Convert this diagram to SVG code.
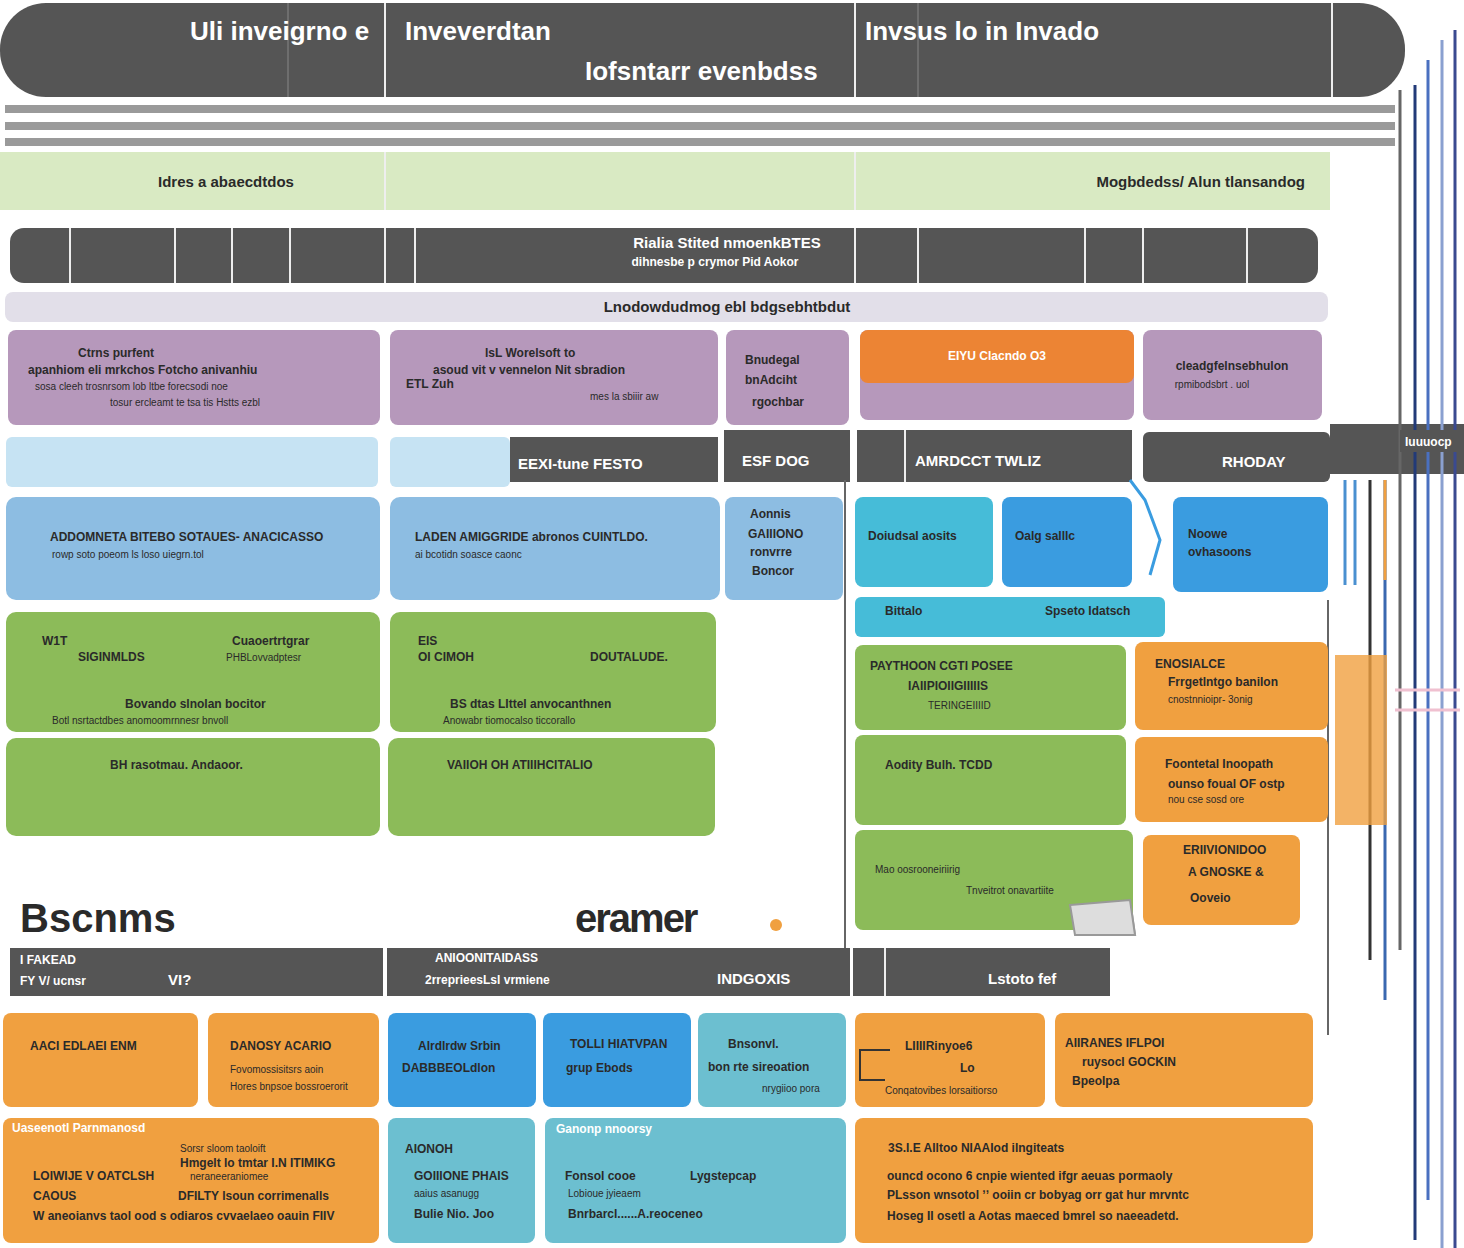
<svg xmlns="http://www.w3.org/2000/svg" width="1464" height="1248" viewBox="0 0 1464 1248">
<style>
text{font-family:"Liberation Sans",Arial,sans-serif;font-weight:bold}
.w{fill:#fff}.k{fill:#2a2a2a}
.hd{fill:#555555}.pu{fill:#b698bb}.lb{fill:#c6e3f3}.bl{fill:#8dbde2}.te{fill:#46bcd8}.db{fill:#3a9ce0}
.gr{fill:#8cbb59}.or{fill:#f0a040}.tl{fill:#6cbfd0}
.t1{font-size:26px}.t2{font-size:15px}.t3{font-size:12px}.t4{font-size:10px;font-weight:normal}
.dv{stroke:#eee;stroke-width:2}
</style>
<rect width="1464" height="1248" fill="#fff"/>
<g id="header">
<rect x="0" y="3" width="1405" height="94" rx="46" class="hd"/>
<line x1="385" y1="3" x2="385" y2="97" class="dv"/><line x1="855" y1="3" x2="855" y2="97" class="dv"/><line x1="1332" y1="3" x2="1332" y2="97" class="dv"/>
<line x1="288" y1="3" x2="288" y2="97" stroke="#888"/><line x1="918" y1="3" x2="918" y2="97" stroke="#888"/>
<text x="190" y="40" class="w t1">Uli inveigrno e</text>
<text x="405" y="40" class="w t1">Inveverdtan</text>
<text x="585" y="80" class="w t1">Iofsntarr evenbdss</text>
<text x="865" y="40" class="w t1">Invsus lo in Invado</text>
</g>
<g id="stripes" fill="#9a9a9a">
<rect x="5" y="105" width="1390" height="8"/><rect x="5" y="122" width="1390" height="8"/><rect x="5" y="138" width="1390" height="8"/>
</g>
<g id="band-green">
<rect x="0" y="152" width="1330" height="58" fill="#d9eac3"/>
<line x1="385" y1="152" x2="385" y2="210" class="dv"/><line x1="855" y1="152" x2="855" y2="210" class="dv"/>
<text x="158" y="187" class="k t2">Idres a abaecdtdos</text>
<text x="1305" y="187" class="k t2" text-anchor="end">Mogbdedss/ Alun tlansandog</text>
</g>
<g id="band-dark">
<rect x="10" y="228" width="1308" height="55" rx="14" class="hd"/>
<g class="dv"><line x1="70" y1="228" x2="70" y2="283"/><line x1="175" y1="228" x2="175" y2="283"/><line x1="232" y1="228" x2="232" y2="283"/><line x1="290" y1="228" x2="290" y2="283"/><line x1="385" y1="228" x2="385" y2="283"/><line x1="415" y1="228" x2="415" y2="283"/><line x1="855" y1="228" x2="855" y2="283"/><line x1="918" y1="228" x2="918" y2="283"/><line x1="1085" y1="228" x2="1085" y2="283"/><line x1="1143" y1="228" x2="1143" y2="283"/><line x1="1247" y1="228" x2="1247" y2="283"/></g>
<text x="727" y="248" class="w t2" text-anchor="middle">Rialia Stited nmoenkBTES</text>
<text x="715" y="266" class="w t3" text-anchor="middle">dihnesbe p crymor Pid Aokor</text>
</g>
<g id="band-lav">
<rect x="5" y="292" width="1323" height="30" rx="8" fill="#e2dfe9"/>
<text x="727" y="312" class="k t2" text-anchor="middle">Lnodowdudmog ebl bdgsebhtbdut</text>
</g>
<g id="row-purple">
<rect x="8" y="330" width="372" height="95" rx="8" class="pu"/>
<text x="78" y="357" class="k t3">Ctrns purfent</text><text x="28" y="374" class="k t3">apanhiom eli mrkchos Fotcho anivanhiu</text><text x="35" y="390" class="k t4">sosa cleeh trosnrsom lob ltbe forecsodi noe</text><text x="110" y="406" class="k t4">tosur ercleamt te tsa tis Hstts ezbl</text>
<rect x="390" y="330" width="328" height="95" rx="8" class="pu"/>
<text x="485" y="357" class="k t3">lsL Worelsoft to</text><text x="433" y="374" class="k t3">asoud vit v vennelon Nit sbradion</text><text x="406" y="388" class="k t3">ETL Zuh</text><text x="590" y="400" class="k t4">mes la sbiiir aw</text>
<rect x="726" y="330" width="123" height="95" rx="8" class="pu"/>
<text x="745" y="364" class="k t3">Bnudegal</text><text x="745" y="384" class="k t3">bnAdciht</text><text x="752" y="406" class="k t3">rgochbar</text>
<rect x="860" y="330" width="274" height="90" rx="8" class="pu"/>
<rect x="860" y="330" width="274" height="53" rx="8" fill="#ec8434"/>
<text x="997" y="360" class="w t3" text-anchor="middle">EIYU Clacndo O3</text>
<rect x="1143" y="330" width="179" height="90" rx="8" class="pu"/>
<text x="1232" y="370" class="k t3" text-anchor="middle">cleadgfelnsebhulon</text><text x="1212" y="388" class="k t4" text-anchor="middle">rpmibodsbrt . uol</text>
</g>
<g id="row-labels">
<rect x="6" y="437" width="372" height="50" rx="6" class="lb"/>
<rect x="390" y="437" width="120" height="50" rx="6" class="lb"/>
<rect x="510" y="437" width="208" height="45" class="hd"/><text x="518" y="469" class="w t2" font-size="20">EEXI-tune FESTO</text>
<rect x="724" y="430" width="126" height="52" class="hd"/><text x="742" y="466" class="w t2" font-size="20">ESF DOG</text>
<rect x="857" y="430" width="275" height="52" class="hd"/><line x1="905" y1="430" x2="905" y2="482" class="dv"/><text x="915" y="466" class="w t2" font-size="20">AMRDCCT TWLIZ</text>
<rect x="1143" y="432" width="187" height="50" rx="6" class="hd"/><text x="1222" y="467" class="w t2" font-size="20">RHODAY</text>
<rect x="1330" y="424" width="134" height="50" class="hd"/>
</g>
<g id="connectors" fill="none">
<line x1="845" y1="480" x2="845" y2="948" stroke="#666" stroke-width="2"/>
<line x1="1328" y1="600" x2="1328" y2="1035" stroke="#666" stroke-width="2"/>
<path d="M890 1050 L860 1050 L860 1080 L885 1080" stroke="#333" stroke-width="2"/>
<path d="M1130 480 L1145 500 L1160 540 L1150 575" stroke="#3a9ce0" stroke-width="3"/>
<path d="M1070 905 L1130 900 L1135 935 L1075 935" stroke="#999" stroke-width="2" fill="#ddd"/>
<g stroke-width="3">
<line x1="1345" y1="480" x2="1345" y2="585" stroke="#4a90d0"/><line x1="1355" y1="480" x2="1355" y2="585" stroke="#4a90d0"/><line x1="1370" y1="480" x2="1370" y2="960" stroke="#333"/><line x1="1385" y1="480" x2="1385" y2="1000" stroke="#3a68b0"/><line x1="1400" y1="90" x2="1400" y2="950" stroke="#666"/><line x1="1415" y1="85" x2="1415" y2="1240" stroke="#223a78"/><line x1="1428" y1="60" x2="1428" y2="1200" stroke="#4a70c0"/><line x1="1442" y1="40" x2="1442" y2="1248" stroke="#8aa0d0"/><line x1="1455" y1="30" x2="1455" y2="1248" stroke="#3a4a90"/>
<rect x="1335" y="655" width="52" height="170" fill="#f0a040" stroke="none" opacity="0.8"/>
<line x1="1395" y1="690" x2="1460" y2="690" stroke="#f0c0d0"/><line x1="1395" y1="710" x2="1460" y2="710" stroke="#f0c0d0"/>
<line x1="1385" y1="480" x2="1385" y2="580" stroke="#f0a040"/>
</g>
</g>
<g id="label-right"><rect x="1400" y="430" width="64" height="22" class="hd"/><text x="1405" y="446" class="w t3">Iuuuocp</text></g>
<g id="row-blue">
<rect x="6" y="497" width="374" height="103" rx="10" class="bl"/>
<text x="50" y="541" class="k t3">ADDOMNETA BITEBO SOTAUES-    ANACICASSO</text><text x="52" y="558" class="k t4">rowp  soto     poeom      ls  loso         uiegrn.tol</text>
<rect x="390" y="497" width="330" height="103" rx="10" class="bl"/>
<text x="415" y="541" class="k t3">LADEN AMIGGRIDE  abronos CUINTLDO.</text><text x="415" y="558" class="k t4">ai bcotidn   soasce                          caonc</text>
<rect x="725" y="497" width="118" height="103" rx="8" class="bl"/>
<text x="750" y="518" class="k t3">Aonnis</text><text x="748" y="538" class="k t3">GAIIIONO</text><text x="750" y="556" class="k t3">ronvrre</text><text x="752" y="575" class="k t3">Boncor</text>
<rect x="855" y="497" width="138" height="90" rx="8" class="te"/><text x="868" y="540" class="k t3">Doiudsal aosits</text>
<rect x="1002" y="497" width="130" height="90" rx="8" class="db"/><text x="1015" y="540" class="k t3">Oalg salllc</text>
<rect x="1173" y="497" width="155" height="95" rx="8" class="db"/><text x="1188" y="538" class="k t3">Noowe</text><text x="1188" y="556" class="k t3">ovhasoons</text>
<rect x="855" y="597" width="310" height="40" rx="6" class="te"/><text x="885" y="615" class="k t3">Bittalo</text><text x="1045" y="615" class="k t3">Spseto Idatsch</text>
</g>
<g id="row-green">
<rect x="6" y="612" width="374" height="120" rx="10" class="gr"/>
<text x="42" y="645" class="k t3">W1T</text><text x="78" y="661" class="k t3">SIGINMLDS</text><text x="232" y="645" class="k t3">Cuaoertrtgrar</text><text x="226" y="661" class="k t4">PHBLovvadptesr</text><text x="125" y="708" class="k t3">Bovando slnolan bocitor</text><text x="52" y="724" class="k t4">Botl nsrtactdbes anomoomrnnesr bnvoll</text>
<rect x="390" y="612" width="326" height="120" rx="10" class="gr"/>
<text x="418" y="645" class="k t3">EIS</text><text x="418" y="661" class="k t3">OI CIMOH</text><text x="590" y="661" class="k t3">DOUTALUDE.</text><text x="450" y="708" class="k t3">BS dtas LIttel anvocanthnen</text><text x="443" y="724" class="k t4">Anowabr tiomocalso ticcorallo</text>
<rect x="6" y="738" width="374" height="98" rx="10" class="gr"/><text x="110" y="769" class="k t3">BH rasotmau.  Andaoor.</text>
<rect x="388" y="738" width="327" height="98" rx="10" class="gr"/><text x="447" y="769" class="k t3">VAIIOH OH ATIIIHCITALIO</text>
<rect x="855" y="645" width="271" height="85" rx="8" class="gr"/><text x="870" y="670" class="k t3">PAYTHOON CGTI POSEE</text><text x="908" y="690" class="k t3">IAIIPIOIIGIIIIIS</text><text x="928" y="709" class="k t4">TERINGEIIIID</text>
<rect x="855" y="735" width="271" height="90" rx="8" class="gr"/><text x="885" y="769" class="k t3">Aodity Bulh. TCDD</text>
<rect x="855" y="830" width="278" height="100" rx="8" class="gr"/><text x="875" y="873" class="k t4">Mao oosrooneiriirig</text><text x="966" y="894" class="k t4">Tnveitrot onavartiite</text>
<rect x="1135" y="642" width="193" height="88" rx="8" class="or"/><text x="1155" y="668" class="k t3">ENOSIALCE</text><text x="1168" y="686" class="k t3">Frrgetlntgo banilon</text><text x="1168" y="703" class="k t4">cnostnnioipr- 3onig</text>
<rect x="1135" y="737" width="193" height="85" rx="8" class="or"/><text x="1165" y="768" class="k t3">Foontetal Inoopath</text><text x="1168" y="788" class="k t3">ounso foual OF ostp</text><text x="1168" y="803" class="k t4">nou cse sosd ore</text>
<rect x="1143" y="835" width="157" height="90" rx="8" class="or"/><text x="1183" y="854" class="k t3">ERIIVIONIDOO</text><text x="1188" y="876" class="k t3">A GNOSKE &amp;</text><text x="1190" y="902" class="k t3">Ooveio</text>
<path d="M1070 905 L1130 900 L1135 935 L1075 935Z" stroke="#999" stroke-width="2" fill="#ddd"/>
</g>
<g id="titles">
<text x="20" y="932" class="k" font-size="40" fill="#111">Bscnms</text>
<text x="575" y="932" class="k" font-size="40" fill="#111" letter-spacing="-2">eramer</text>
<circle cx="776" cy="925" r="6" fill="#f0a040"/>
</g>
<g id="band-dark2">
<rect x="10" y="948" width="373" height="48" class="hd"/><text x="20" y="964" class="w t3">I FAKEAD</text><text x="20" y="985" class="w t3">FY V/ ucnsr</text><text x="168" y="985" class="w t2" font-size="20">VI?</text>
<rect x="387" y="948" width="463" height="48" class="hd"/><text x="435" y="962" class="w t3">ANIOONITAIDASS</text><text x="425" y="984" class="w t3">2rreprieesLsl vrmiene</text><text x="717" y="984" class="w t2" font-size="20">INDGOXIS</text>
<rect x="853" y="948" width="257" height="48" class="hd"/><line x1="885" y1="948" x2="885" y2="996" class="dv"/><text x="988" y="984" class="w t2" font-size="20">Lstoto  fef</text>
</g>
<g id="row-bottom1">
<rect x="3" y="1013" width="195" height="94" rx="8" class="or"/><text x="30" y="1050" class="k t3">AACI EDLAEI ENM</text>
<rect x="208" y="1013" width="171" height="94" rx="8" class="or"/><text x="230" y="1050" class="k t3">DANOSY  ACARIO</text><text x="230" y="1073" class="k t4">Fovomossisitsrs aoin</text><text x="230" y="1090" class="k t4">Hores bnpsoe bossroerorit</text>
<rect x="388" y="1013" width="148" height="94" rx="8" class="db"/><text x="418" y="1050" class="k t3">Alrdlrdw Srbin</text><text x="402" y="1072" class="k t3">DABBBEOLdlon</text>
<rect x="543" y="1013" width="148" height="94" rx="8" class="db"/><text x="570" y="1048" class="k t3">TOLLI HIATVPAN</text><text x="566" y="1072" class="k t3">grup Ebods</text>
<rect x="698" y="1013" width="148" height="94" rx="8" class="tl"/><text x="728" y="1048" class="k t3">Bnsonvl.</text><text x="708" y="1071" class="k t3">bon rte sireoation</text><text x="762" y="1092" class="k t4">nrygiioo pora</text>
<rect x="855" y="1013" width="190" height="94" rx="8" class="or"/><text x="905" y="1050" class="k t3">LIIIIRinyoe6</text><text x="960" y="1072" class="k t3">Lo</text><text x="885" y="1094" class="k t4">Conqatovibes   lorsaitiorso</text>
<path d="M890 1050 L860 1050 L860 1080 L885 1080" stroke="#333" stroke-width="2" fill="none"/>
<rect x="1055" y="1013" width="258" height="94" rx="8" class="or"/><text x="1065" y="1047" class="k t3">AIIRANES IFLPOI</text><text x="1082" y="1066" class="k t3">ruysocl GOCKIN</text><text x="1072" y="1085" class="k t3">Bpeolpa</text>
</g>
<g id="row-bottom2">
<rect x="3" y="1118" width="376" height="125" rx="8" class="or"/><text x="12" y="1132" class="w t3">Uaseenotl Parnmanosd</text><text x="180" y="1152" class="k t4">Sorsr sloom taoloift</text><text x="180" y="1167" class="k t3">Hmgelt lo tmtar I.N ITIMIKG</text><text x="33" y="1180" class="k t3">LOIWIJE V OATCLSH</text><text x="190" y="1180" class="k t4">neraneeraniomee</text><text x="33" y="1200" class="k t3">CAOUS</text><text x="178" y="1200" class="k t3">DFILTY lsoun corrimenalls</text><text x="33" y="1220" class="k t3">W aneoianvs taol ood s odiaros cvvaelaeo oauin FIIV</text>
<rect x="388" y="1118" width="147" height="125" rx="8" class="tl"/><text x="405" y="1153" class="k t3">AIONOH</text><text x="414" y="1180" class="k t3">GOIIIONE PHAIS</text><text x="414" y="1197" class="k t4">aaius asanugg</text><text x="414" y="1218" class="k t3">Bulie Nio. Joo</text>
<rect x="545" y="1118" width="301" height="125" rx="8" class="tl"/><text x="556" y="1133" class="w t3">Ganonp nnoorsy</text><text x="565" y="1180" class="k t3">Fonsol cooe</text><text x="690" y="1180" class="k t3">Lygstepcap</text><text x="568" y="1197" class="k t4">Lobioue jyieaem</text><text x="568" y="1218" class="k t3">Bnrbarcl......A.reoceneo</text>
<rect x="855" y="1118" width="458" height="125" rx="8" class="or"/><text x="888" y="1152" class="k t3">3S.I.E Alltoo NIAAIod ilngiteats</text><text x="887" y="1180" class="k t3">ouncd ocono  6  cnpie wiented ifgr aeuas pormaoly</text><text x="887" y="1199" class="k t3">PLsson wnsotol  ʼʼ  ooiin cr bobyag orr gat hur mrvntc</text><text x="887" y="1220" class="k t3">Hoseg II osetl   a   Aotas maeced bmrel so naeeadetd.</text>
</g>
</svg>
